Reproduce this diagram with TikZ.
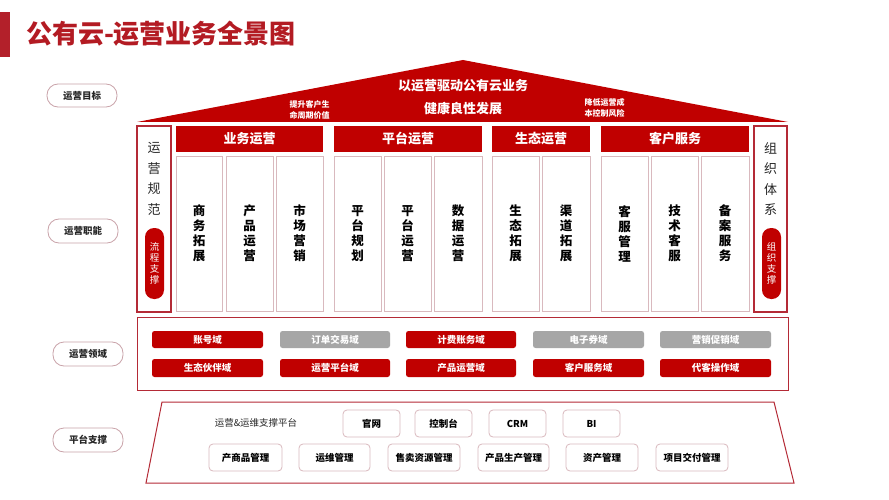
\documentclass[tikz,border=0pt]{standalone}
\usepackage{fontspec}
\setmainfont{Noto Sans CJK SC}
\definecolor{mainred}{HTML}{C00000}
\definecolor{titlered}{HTML}{B31B23}
\definecolor{barred}{HTML}{B3202A}
\definecolor{colborder}{HTML}{B42A36}
\definecolor{subborder}{HTML}{D9B9BE}
\definecolor{pillborder}{HTML}{C9A3A9}
\definecolor{btngray}{HTML}{A6A6A6}
\definecolor{txtdark}{HTML}{262626}
\newcommand\drawbox[7]{\node[#1, minimum width={(#5-#3)*1pt}, minimum height={(#6-#4)*1pt}] (#2) at ({(#3+#5)/2},{(#4+#6)/2}) {#7};}
\tikzset{
  base/.style={inner sep=0pt, outer sep=0pt, align=center},
  sidepill/.style={base, draw=pillborder, line width=0.8pt, fill=white, rounded corners=11pt, font=\bfseries\fontsize{9.5}{11}\selectfont, text=txtdark},
  colbox/.style={base, draw=colborder, line width=1.3pt, fill=white},
  coltext/.style={base, font=\fontsize{13}{20.5}\selectfont, text=txtdark},
  redpill/.style={base, fill=mainred, rounded corners=9pt, text=white, font=\fontsize{9.5}{11}\selectfont},
  header/.style={base, fill=mainred, text=white, font=\bfseries\fontsize{13}{14}\selectfont},
  subbox/.style={base, draw=subborder, line width=0.8pt, fill=white, text=black, font=\bfseries\fontsize{12.5}{15}\selectfont},
  domainbox/.style={base, draw=colborder, line width=1pt},
  redbtn/.style={base, fill=mainred, rounded corners=2.5pt, text=white, font=\bfseries\fontsize{9.5}{10}\selectfont},
  graybtn/.style={base, fill=btngray, rounded corners=2.5pt, text=white, font=\bfseries\fontsize{9.5}{10}\selectfont},
  platbtn/.style={base, draw=subborder, line width=0.8pt, fill=white, rounded corners=4pt, text=black, font=\bfseries\fontsize{9.5}{10}\selectfont},
  rooftext/.style={base, text=white, font=\bfseries\fontsize{13}{14}\selectfont},
  roofsmall/.style={base, text=white, font=\bfseries\fontsize{8}{11}\selectfont},
}
\begin{document}
\begin{tikzpicture}[x=1pt,y=-1pt]
\useasboundingbox (0,0) rectangle (889,500);
\fill[white] (0,0) rectangle (889,500);
% title
\fill[barred] (0,12) rectangle (10,57);
\node[base, anchor=west, text=titlered, font=\bfseries\fontsize{26}{28}\selectfont] (title) at (26,34) {公有云-运营业务全景图};
% left labels
\drawbox{sidepill}{lbgoal}{47}{84}{117}{107}{运营目标}
\drawbox{sidepill}{lbfunc}{48}{219}{118}{243}{运营职能}
\drawbox{sidepill}{lbdomain}{53}{342}{123}{366}{运营领域}
\drawbox{sidepill}{lbplat}{53}{428}{123}{452}{平台支撑}
% roof
\fill[mainred] (137,122) -- (463,60) -- (788,122) -- cycle;
\node[rooftext] (roof1) at (463,86) {以运营驱动公有云业务};
\node[rooftext] (roof2) at (463,109) {健康良性发展};
\node[roofsmall] (roofl) at (309.5,109.5) {提升客户生\\命周期价值};
\node[roofsmall] (roofr) at (604.5,107.5) {降低运营成\\本控制风险};
% side columns
\drawbox{colbox}{colL}{137}{126}{171}{312}{}
\node[coltext] (colLt) at (154,179) {运\\营\\规\\范};
\drawbox{redpill}{pillL}{145}{228}{164}{299}{流\\程\\支\\撑}
\drawbox{colbox}{colR}{754}{126}{787}{312}{}
\node[coltext] (colRt) at (770.5,179) {组\\织\\体\\系};
\drawbox{redpill}{pillR}{762}{228}{781}{299}{组\\织\\支\\撑}
% headers
\drawbox{header}{h1}{176}{126}{323}{152}{业务运营}
\drawbox{header}{h2}{334}{126}{482}{152}{平台运营}
\drawbox{header}{h3}{492}{126}{590}{152}{生态运营}
\drawbox{header}{h4}{601}{126}{749}{152}{客户服务}
% sub boxes
\drawbox{subbox}{s11}{176}{156}{222}{311}{商\\务\\拓\\展}
\drawbox{subbox}{s12}{226}{156}{273}{311}{产\\品\\运\\营}
\drawbox{subbox}{s13}{276}{156}{323}{311}{市\\场\\营\\销}
\drawbox{subbox}{s21}{334}{156}{381}{311}{平\\台\\规\\划}
\drawbox{subbox}{s22}{384}{156}{431}{311}{平\\台\\运\\营}
\drawbox{subbox}{s23}{434}{156}{482}{311}{数\\据\\运\\营}
\drawbox{subbox}{s31}{492}{156}{539}{311}{生\\态\\拓\\展}
\drawbox{subbox}{s32}{542}{156}{590}{311}{渠\\道\\拓\\展}
\drawbox{subbox}{s41}{601}{156}{648}{311}{客\\服\\管\\理}
\drawbox{subbox}{s42}{651}{156}{698}{311}{技\\术\\客\\服}
\drawbox{subbox}{s43}{701}{156}{749}{311}{备\\案\\服\\务}
% domain area
\drawbox{domainbox}{domain}{137}{317}{788}{390}{}
\drawbox{redbtn}{d11}{152}{331}{263}{348}{账号域}
\drawbox{graybtn}{d12}{280}{331}{390}{348}{订单交易域}
\drawbox{redbtn}{d13}{406}{331}{516}{348}{计费账务域}
\drawbox{graybtn}{d14}{533}{331}{644}{348}{电子券域}
\drawbox{graybtn}{d15}{660}{331}{771}{348}{营销促销域}
\drawbox{redbtn}{d21}{152}{359}{263}{377}{生态伙伴域}
\drawbox{redbtn}{d22}{280}{359}{390}{377}{运营平台域}
\drawbox{redbtn}{d23}{406}{359}{516}{377}{产品运营域}
\drawbox{redbtn}{d24}{533}{359}{644}{377}{客户服务域}
\drawbox{redbtn}{d25}{660}{359}{771}{377}{代客操作域}
% platform
\draw[colborder, line width=1pt] (162,402) -- (774,402) -- (794,483) -- (146,483) -- cycle;
\node[base, text=txtdark, font=\fontsize{9.5}{11}\selectfont] (plattitle) at (256,423) {运营\&运维支撑平台};
\drawbox{platbtn}{p11}{343}{410}{400}{437}{官网}
\drawbox{platbtn}{p12}{415}{410}{472}{437}{控制台}
\drawbox{platbtn}{p13}{489}{410}{546}{437}{CRM}
\drawbox{platbtn}{p14}{563}{410}{620}{437}{BI}
\drawbox{platbtn}{p21}{209}{444}{282}{471}{产商品管理}
\drawbox{platbtn}{p22}{299}{444}{370}{471}{运维管理}
\drawbox{platbtn}{p23}{388}{444}{460}{471}{售卖资源管理}
\drawbox{platbtn}{p24}{478}{444}{549}{471}{产品生产管理}
\drawbox{platbtn}{p25}{566}{444}{638}{471}{资产管理}
\drawbox{platbtn}{p26}{656}{444}{728}{471}{项目交付管理}
\end{tikzpicture}
\end{document}
